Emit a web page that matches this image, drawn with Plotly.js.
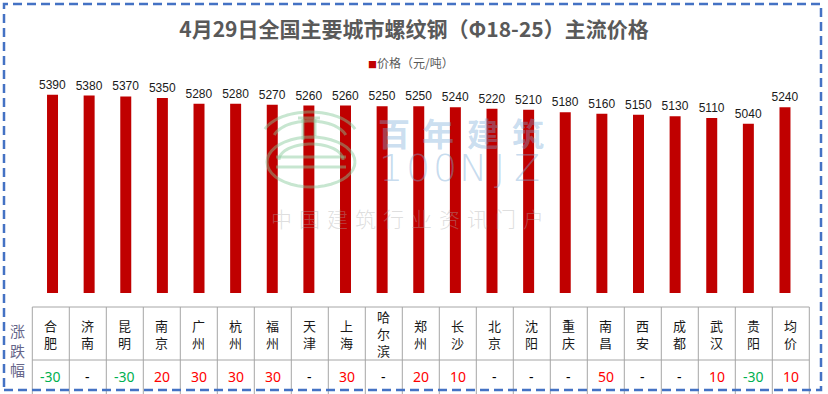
<!DOCTYPE html>
<html>
<head>
<meta charset="utf-8">
<script src="https://cdn.plot.ly/plotly-3.0.1.min.js"></script>
<style>html,body{margin:0;padding:0;background:#fff;}#chart{width:828px;height:394px;}</style>
</head>
<body>
<div id="chart"></div>
<script>
// ---- data ----
const cities = ["合肥","济南","昆明","南京","广州","杭州","福州","天津","上海","哈尔滨","郑州","长沙","北京","沈阳","重庆","南昌","西安","成都","武汉","贵阳","均价"];
const prices = [5390,5380,5370,5350,5280,5280,5270,5260,5260,5250,5250,5240,5220,5210,5180,5160,5150,5130,5110,5040,5240];
const changes = ["-30","-","-30","20","30","30","30","-","30","-","20","10","-","-","-","50","-","-","10","-30","10"];
const titleText = "4月29日全国主要城市螺纹钢（Φ18-25）主流价格";
const seriesName = "价格（元/吨）";
const rowLabel = "涨跌幅";

// ---- geometry helpers (pixel -> paper) ----
const W = 828, H = 394, ML = 32, MR = 19, MT = 69, MB = 0;
const PW = W - ML - MR, PH = H - MT - MB;
const px = x => (x - ML) / PW;
const py = y => (H - y) / PH;

const changeColor = v => v === "-" ? "#000000" : (v.startsWith("-") ? "#00b050" : "#ff0000");

const traces = [
  {
    type: "bar", x: cities, y: prices, name: seriesName, showlegend: false,
    marker: {color: "#c00000"},
    text: prices.map(String), textposition: "outside", cliponaxis: false, constraintext: "none",
    textfont: {family: "Liberation Sans, Arial, sans-serif", size: 12, color: "#1a1a1a"},
    hoverinfo: "x+y"
  }
];

// ---- table grid (drawn as shapes, one column per category) ----
const tblLeft = 32.3, colW = 37, rowTop = 307, rowMid = 360, rowBot = 394;
const gridColor = "#a6a6a6";
const shapes = [];
const annotations = [];
const gline = (x0, y0, x1, y1) => ({type: "line", xref: "paper", yref: "paper", x0: px(x0), y0: py(y0), x1: px(x1), y1: py(y1), line: {color: gridColor, width: 1}, layer: "above"});
const tblRight = tblLeft + colW * cities.length;
shapes.push(gline(tblLeft, rowTop, tblRight, rowTop));
shapes.push(gline(tblLeft, rowMid, tblRight, rowMid));
for (let i = 0; i <= cities.length; i++) {
  const xx = tblLeft + colW * i;
  shapes.push(gline(xx, rowTop, xx, rowBot));
}
cities.forEach((c, i) => {
  const xc = tblLeft + colW * (i + 0.5);
  annotations.push({
    xref: "paper", yref: "paper", x: px(xc), y: py((rowTop + rowMid) / 2), xanchor: "center", yanchor: "middle",
    text: c.split("").join("<br>"), showarrow: false,
    font: {family: "Noto Sans CJK SC, sans-serif", size: 13, color: "#1a1a1a"}
  });
  annotations.push({
    xref: "paper", yref: "paper", x: px(xc), y: py(376), xanchor: "center", yanchor: "middle",
    text: changes[i], showarrow: false,
    font: {family: "Noto Sans, sans-serif", size: 14, color: changeColor(changes[i])}
  });
});
annotations.push({
  xref: "paper", yref: "paper", x: px(17), y: py(350), xanchor: "center", yanchor: "middle",
  text: rowLabel.split("").join("<br>"),
  showarrow: false, font: {family: "Noto Sans CJK SC, sans-serif", size: 15, color: "#66668a"}
});

// ---- legend (as a text key) ----
annotations.push({
  xref: "paper", yref: "paper", x: px(411), y: py(62), xanchor: "center", yanchor: "middle", showarrow: false,
  text: '<span style="color:#c00000;font-size:9px">■</span>' + seriesName,
  font: {family: "Noto Sans CJK SC, sans-serif", size: 12, color: "#595959"}
});

// ---- watermark ----
const wmColorG = "rgba(130,200,150,0.45)";
const arcPath = (cx, cy, rx, ry, a0, a1) => {
  let s = "";
  const n = 40;
  for (let i = 0; i <= n; i++) {
    const a = (a0 + (a1 - a0) * i / n) * Math.PI / 180;
    const X = px(cx + rx * Math.cos(a)), Y = py(cy - ry * Math.sin(a));
    s += (i === 0 ? "M" : "L") + X.toFixed(5) + "," + Y.toFixed(5);
  }
  return s;
};
const lineShape = (x0, y0, x1, y1) => ({type: "line", xref: "paper", yref: "paper", x0: px(x0), y0: py(y0), x1: px(x1), y1: py(y1), line: {color: wmColorG, width: 3}, layer: "above"});
const pathShape = d => ({type: "path", xref: "paper", yref: "paper", path: d, line: {color: wmColorG, width: 3}, layer: "above"});

shapes.push(
  pathShape(arcPath(310, 138, 48, 26, 160, 20)),
  pathShape(arcPath(310, 140, 37, 19, 165, 15)),
  lineShape(303, 119, 303, 140),
  lineShape(315, 119, 315, 136),
  lineShape(298, 118, 320, 118),
  pathShape(arcPath(311, 162, 44, 25, 0, 360)),
  pathShape(arcPath(311, 160, 32, 16, 0, 180)),
  lineShape(276, 157, 346, 157),
  lineShape(276, 167, 346, 167),
  // dashed outer border
  {type: "rect", xref: "paper", yref: "paper", x0: px(4), x1: px(821), y0: py(390), y1: py(4),
   line: {color: "#4472c4", width: 2.5, dash: "9px,5px"}, layer: "above"}
);

const wm = (ch, x, y, font) => annotations.push({
  xref: "paper", yref: "paper", x: px(x), y: py(y), xanchor: "center", yanchor: "middle",
  text: ch, showarrow: false, borderpad: 0, font: font
});
"百年建筑".split("").forEach((ch, i) => wm(ch, 394 + i * 44.5, 132,
  {family: "Noto Sans CJK SC, sans-serif", size: 32, color: "rgba(120,170,215,0.4)", weight: "bold"}));
"100NJZ".split("").forEach((ch, i) => wm(ch, 391 + i * 27.2, 168,
  {family: "DejaVu Sans, sans-serif", size: 38, color: "rgba(120,170,215,0.42)", weight: 200}));
"中国建筑行业资讯门户".split("").forEach((ch, i) => wm(ch, 281 + i * 28.1, 218,
  {family: "Noto Sans CJK SC, sans-serif", size: 21, color: "rgba(170,170,170,0.4)", weight: 300}));

const layout = {
  width: W, height: H,
  margin: {l: ML, r: MR, t: MT, b: MB, pad: 0},
  paper_bgcolor: "#ffffff", plot_bgcolor: "rgba(0,0,0,0)",
  title: {
    text: titleText, x: 0.5, xref: "container", y: 1 - 30 / H, yref: "container", yanchor: "middle",
    font: {family: "Noto Sans CJK SC, sans-serif", size: 21, color: "#595959", weight: "bold"}
  },
  showlegend: false,
  bargap: 0.7,
  xaxis: {domain: [px(34.2), px(803.3)], showticklabels: false, showgrid: false, zeroline: false, showline: false, ticks: "", fixedrange: true},
  yaxis: {domain: [py(293), 1], range: [3000, 5700], visible: false, fixedrange: true},
  shapes: shapes,
  annotations: annotations
};

Plotly.newPlot("chart", traces, layout, {displayModeBar: false, staticPlot: true});
</script>
</body>
</html>
